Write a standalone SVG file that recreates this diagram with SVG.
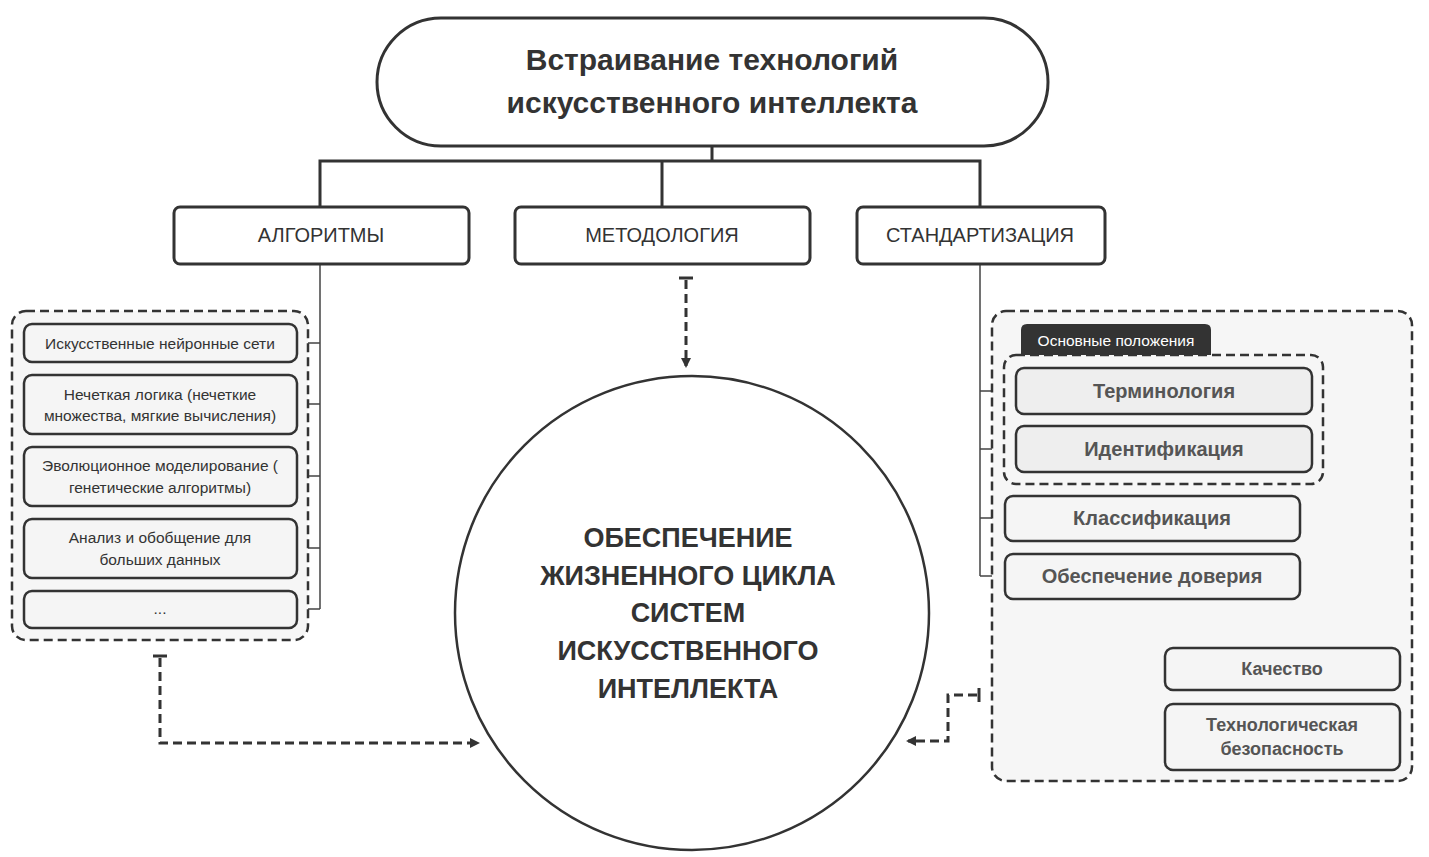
<svg xmlns="http://www.w3.org/2000/svg" width="1429" height="857" viewBox="0 0 1429 857">
<defs>
<marker id="ah" markerWidth="10" markerHeight="10" refX="8" refY="5" orient="auto" markerUnits="userSpaceOnUse" viewBox="0 0 10 10"><path d="M0,0 L10,5 L0,10 z" fill="#333"/></marker>
<style>
text{font-family:"Liberation Sans",Arial,sans-serif;text-anchor:middle;fill:#333}
.box{fill:#fff;stroke:#333;stroke-width:3}
.item{fill:#f5f5f5;stroke:#333;stroke-width:2.5}
.item2{fill:#eeeeee;stroke:#333;stroke-width:2.5}
.cont{fill:#f6f6f6;stroke:#333;stroke-width:2.5;stroke-dasharray:9 5}
.ln{fill:none;stroke:#444;stroke-width:1.5}
.thick{fill:none;stroke:#333;stroke-width:3}
.dash{fill:none;stroke:#333;stroke-width:3;stroke-dasharray:9 5}
.s{font-size:15.5px}
.b{font-size:20px;font-weight:bold;fill:#555}
</style>
</defs>
<rect width="1429" height="857" fill="#fff"/>
<g id="connectors">
<path class="thick" d="M712,146 V161 M320,207 V161 H980 V207 M662,161 V207"/>
<path class="ln" d="M320,264 V609 M297,343 H320 M297,404 H320 M297,476 H320 M297,548 H320 M297,609 H320"/>
<path class="ln" d="M980,264 V576 M980,391 H1016 M980,449 H1016 M980,518 H1005 M980,576 H1005"/>
<path class="ln" d="M1153,599 V736 H1165 M1153,669 H1165"/>
<path class="dash" d="M160,658 V743 H478" marker-end="url(#ah)"/>
<path class="thick" d="M153,656 H167"/>
<path class="dash" d="M686,280 V366" marker-end="url(#ah)"/>
<path class="thick" d="M679,278 H693"/>
<path class="dash" d="M977,695 H948 V741 H908" marker-end="url(#ah)"/>
<path class="thick" d="M979,688 V702"/>
</g>
<g id="title"><rect class="box" x="377" y="18" width="671" height="128" rx="64"/>
<text x="712" y="70" font-size="30" font-weight="bold">Встраивание технологий</text>
<text x="712" y="113" font-size="30" font-weight="bold">искусственного интеллекта</text></g>
<g id="alg"><rect class="box" x="174" y="207" width="295" height="57" rx="6"/><text x="321" y="242" font-size="20">АЛГОРИТМЫ</text></g>
<g id="met"><rect class="box" x="515" y="207" width="295" height="57" rx="6"/><text x="662" y="242" font-size="20">МЕТОДОЛОГИЯ</text></g>
<g id="std"><rect class="box" x="857" y="207" width="248" height="57" rx="6"/><text x="980" y="242" font-size="20">СТАНДАРТИЗАЦИЯ</text></g>
<g id="left-group"><rect class="cont" x="12" y="311" width="296" height="329" rx="14"/></g>
<g id="l1"><rect class="item" x="24" y="324" width="273" height="38" rx="8"/><text class="s" x="160" y="349">Искусственные нейронные сети</text></g>
<g id="l2"><rect class="item" x="24" y="375" width="273" height="59" rx="8"/><text class="s" x="160" y="400">Нечеткая логика (нечеткие</text><text class="s" x="160" y="421">множества, мягкие вычисления)</text></g>
<g id="l3"><rect class="item" x="24" y="447" width="273" height="59" rx="8"/><text class="s" x="160" y="471">Эволюционное моделирование (</text><text class="s" x="160" y="493">генетические алгоритмы)</text></g>
<g id="l4"><rect class="item" x="24" y="519" width="273" height="59" rx="8"/><text class="s" x="160" y="543">Анализ и обобщение для</text><text class="s" x="160" y="565">больших данных</text></g>
<g id="l5"><rect class="item" x="24" y="591" width="273" height="37" rx="8"/><text class="s" x="160" y="614">...</text></g>
<g id="center"><circle cx="692" cy="613" r="237" fill="#fff" stroke="#333" stroke-width="2.5"/>
<text x="688" y="547" font-size="27" font-weight="bold">ОБЕСПЕЧЕНИЕ</text>
<text x="688" y="585" font-size="27" font-weight="bold">ЖИЗНЕННОГО ЦИКЛА</text>
<text x="688" y="622" font-size="27" font-weight="bold">СИСТЕМ</text>
<text x="688" y="660" font-size="27" font-weight="bold">ИСКУССТВЕННОГО</text>
<text x="688" y="698" font-size="27" font-weight="bold">ИНТЕЛЛЕКТА</text></g>
<g id="right-group"><rect class="cont" x="992" y="311" width="420" height="470" rx="14"/></g>
<g id="tab"><path d="M1021,355 V330 Q1021,324 1027,324 H1205 Q1211,324 1211,330 V355 Z" fill="#333"/><text x="1116" y="346" font-size="15.5" style="fill:#fff">Основные положения</text></g>
<g id="inner-group"><rect class="cont" x="1004" y="355" width="319" height="129" rx="12" fill="none"/></g>
<g id="r1"><rect class="item2" x="1016" y="368" width="296" height="46" rx="8"/><text class="b" x="1164" y="398">Терминология</text></g>
<g id="r2"><rect class="item2" x="1016" y="426" width="296" height="46" rx="8"/><text class="b" x="1164" y="456">Идентификация</text></g>
<g id="r3"><rect class="item" x="1005" y="496" width="295" height="45" rx="8"/><text class="b" x="1152" y="525">Классификация</text></g>
<g id="r4"><rect class="item" x="1005" y="554" width="295" height="45" rx="8"/><text class="b" x="1152" y="583">Обеспечение доверия</text></g>
<g id="r5"><rect class="item" x="1165" y="648" width="235" height="42" rx="8"/><text class="b" x="1282" y="675" font-size="18" style="font-size:18px">Качество</text></g>
<g id="r6"><rect class="item" x="1165" y="704" width="235" height="66" rx="8"/><text class="b" x="1282" y="731" style="font-size:18px">Технологическая</text><text class="b" x="1282" y="755" style="font-size:18px">безопасность</text></g>
</svg>
